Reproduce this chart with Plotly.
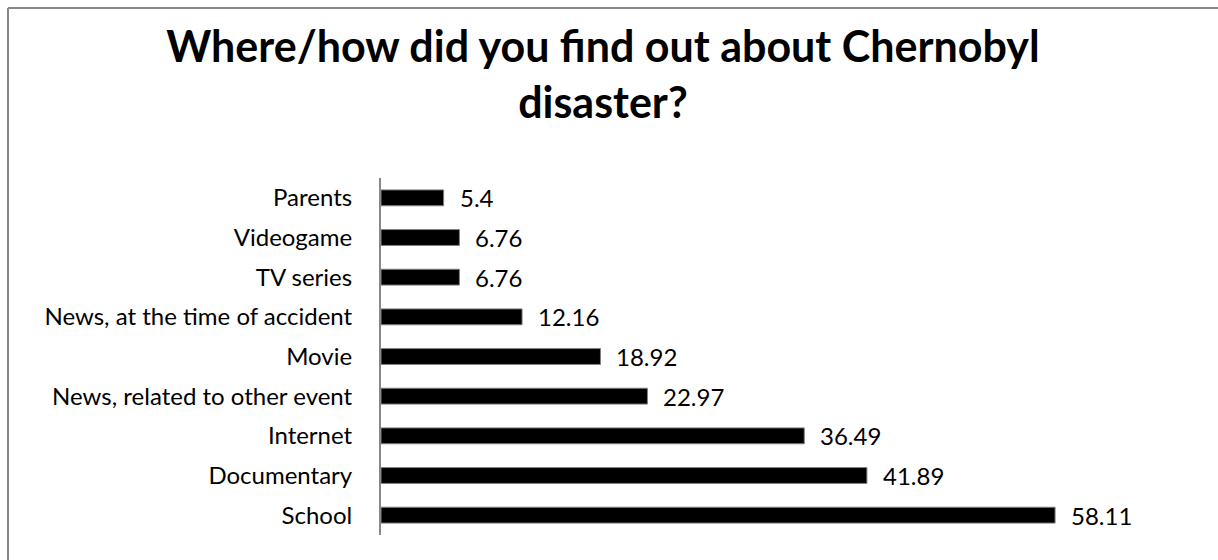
import plotly.graph_objects as go

categories = ["School", "Documentary", "Internet", "News, related to other event", "Movie",
              "News, at the time of accident", "TV series", "Videogame", "Parents"]
values = [58.11, 41.89, 36.49, 22.97, 18.92, 12.16, 6.76, 6.76, 5.4]
value_labels = ["58.11", "41.89", "36.49", "22.97", "18.92", "12.16", "6.76", "6.76", "5.4"]

FONT = "Lato"

fig = go.Figure()
fig.add_trace(go.Bar(
    x=values, y=categories, orientation="h",
    marker=dict(color="#000000", line=dict(color="#808080", width=1)),
    width=0.4,
    hoverinfo="skip",
))

for v, c, t in zip(values, categories, value_labels):
    fig.add_annotation(x=v, y=c, text=t, showarrow=False, xanchor="left",
                       xshift=14, font=dict(family=FONT, size=24, color="#000"))

L, R, T, B = 381, 25, 178, 25
W, H = 1218, 560
pw = W - L - R
ph = H - T - B

bx = (8 - L) / pw
by = (H - B - 8) / ph
# border: top and left edges
fig.add_shape(type="line", xref="paper", yref="paper",
              x0=bx, x1=(W + 40 - L) / pw, y0=by, y1=by,
              line=dict(color="#888888", width=2))
fig.add_shape(type="line", xref="paper", yref="paper",
              x0=bx, x1=bx, y0=-(B + 20) / ph, y1=by,
              line=dict(color="#888888", width=2))

fig.update_layout(
    width=W, height=H,
    margin=dict(l=L, r=R, t=T, b=B),
    paper_bgcolor="white", plot_bgcolor="white",
    showlegend=False,
    title=dict(text="<b>Where/how did you find out about Chernobyl<br>disaster?</b>",
               x=0.495, xanchor="center", xref="container", y=0.89, yanchor="middle",
               yref="container",
               font=dict(family=FONT, size=43, color="#000")),
    xaxis=dict(range=[0, 70], visible=False, fixedrange=True),
    yaxis=dict(showline=True, linecolor="#888888", linewidth=2, ticks="",
               showgrid=False, tickfont=dict(family=FONT, size=24, color="#000"),
               ticklabelstandoff=22, fixedrange=True),
    bargap=0.6,
)

fig.write_html("out.html")
